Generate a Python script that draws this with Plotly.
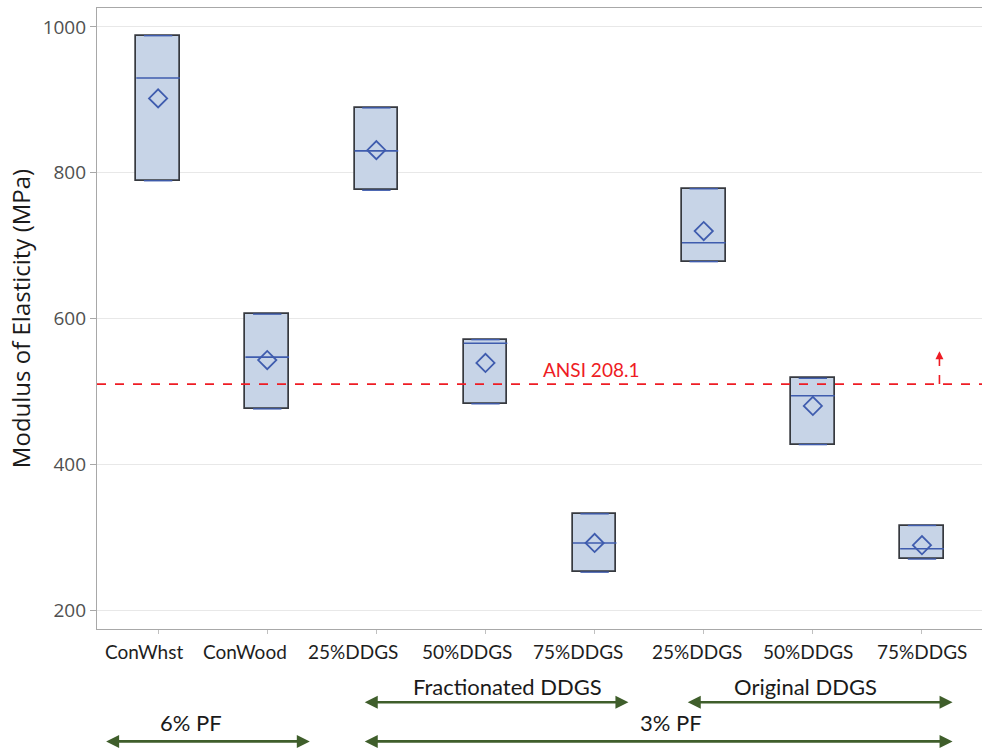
import plotly.graph_objects as go

# Modulus of elasticity summary per formulation (MPa)
categories = ["ConWhst", "ConWood", "25%DDGS", "50%DDGS", "75%DDGS",
              "25%DDGS", "50%DDGS", "75%DDGS"]
moe_max = [988, 606, 889, 571, 332, 778, 518, 316]
moe_median = [930, 547, 830, 566, 292, 704, 494, 284]
moe_min = [789, 476, 776, 483, 252, 678, 427, 270]
moe_mean = [902, 543, 831, 539, 292, 720, 480, 289]
ansi_threshold = 510
y_ticks = [200, 400, 600, 800, 1000]

BOX_HALF = 0.2
CAP_HALF = 0.13
positions = list(range(len(categories)))
# category labels sit slightly left of their boxes
label_shift = [-0.13, -0.20, -0.21, -0.17, -0.15, -0.06, -0.04, 0.0]

BOX_FILL = "#c7d4e7"
BOX_EDGE = "#36393f"
BLUE = "#3f5cae"
GREEN = "#3f5e2b"
RED = "#ee1c24"
SANS = "Lato, Open Sans, sans-serif"

fig = go.Figure()

# Boxes spanning min..max
fig.add_trace(go.Bar(
    x=positions,
    y=[hi - lo for hi, lo in zip(moe_max, moe_min)],
    base=moe_min,
    width=2 * BOX_HALF,
    marker=dict(color=BOX_FILL, line=dict(color=BOX_EDGE, width=1.7)),
    hoverinfo="skip",
    showlegend=False,
))

# Median lines and blue caps at min / max
seg_x, seg_y = [], []
cap_x, cap_y = [], []
for p, med, lo, hi in zip(positions, moe_median, moe_min, moe_max):
    seg_x += [p - BOX_HALF, p + BOX_HALF, None]
    seg_y += [med, med, None]
    for v in (lo, hi):
        cap_x += [p - CAP_HALF, p + CAP_HALF, None]
        cap_y += [v, v, None]

fig.add_trace(go.Scatter(x=seg_x, y=seg_y, mode="lines",
                         line=dict(color=BLUE, width=1.6),
                         hoverinfo="skip", showlegend=False))
fig.add_trace(go.Scatter(x=cap_x, y=cap_y, mode="lines",
                         line=dict(color=BLUE, width=1.4),
                         hoverinfo="skip", showlegend=False))

# Means as open diamonds
fig.add_trace(go.Scatter(
    x=positions, y=moe_mean, mode="markers",
    marker=dict(symbol="diamond-open", size=14, color=BLUE,
                line=dict(width=1.8, color=BLUE)),
    showlegend=False,
))

# ANSI 208.1 reference line
fig.add_shape(type="line", xref="paper", x0=0, x1=1, yref="y",
              y0=ansi_threshold, y1=ansi_threshold,
              line=dict(color=RED, width=1.6, dash="dash"))
fig.add_annotation(x=3.97, y=ansi_threshold, yanchor="bottom", yshift=1,
                   text="ANSI 208.1", showarrow=False,
                   font=dict(family=SANS, size=19, color=RED))

# Small upward arrow indicating "above the standard"
arrow_x = 7.16
fig.add_shape(type="line", x0=arrow_x, x1=arrow_x, y0=ansi_threshold, y1=ansi_threshold + 38,
              line=dict(color=RED, width=1.6, dash="dash"))
fig.add_annotation(x=arrow_x, y=ansi_threshold + 45, ax=0, ay=8, axref="pixel", ayref="pixel",
                   text="", showarrow=True, arrowhead=2, arrowsize=1,
                   arrowwidth=1.6, arrowcolor=RED)

# Category labels
for p, name, dx in zip(positions, categories, label_shift):
    fig.add_annotation(x=p + dx, xref="x", y=-0.036, yref="paper", yanchor="middle",
                       text=name, showarrow=False,
                       font=dict(family=SANS, size=19, color="#1e1e1e"))

# Group brackets beneath the axis
label_font = dict(family=SANS, size=22, color="#1a1a1a")
groups = [
    ("Fractionated DDGS", 3.20, 1.88, 4.31, -0.092, -0.118),
    ("Original DDGS", 5.93, 4.84, 7.28, -0.092, -0.118),
    ("6% PF", 0.30, -0.49, 1.39, -0.150, -0.181),
    ("3% PF", 4.70, 1.88, 7.28, -0.150, -0.181),
]
for text, tx, x0, x1, ty, ay in groups:
    fig.add_annotation(x=tx, xref="x", y=ty, yref="paper", yanchor="middle",
                       text=text, showarrow=False, font=label_font)
    fig.add_annotation(x=x1, xref="x", y=ay, yref="paper",
                       ax=x0, axref="x", ay=0, ayref="pixel",
                       text="", showarrow=True, arrowhead=2, arrowside="end+start",
                       arrowsize=1, arrowwidth=2.6, arrowcolor=GREEN)

fig.update_layout(
    width=982, height=749,
    margin=dict(l=97, r=0, t=8, b=120),
    plot_bgcolor="white", paper_bgcolor="white",
    font=dict(family=SANS, color="#333"),
    bargap=0,
)
fig.update_xaxes(
    range=[-0.56, 7.55],
    tickmode="array", tickvals=positions, showticklabels=False,
    showgrid=False, zeroline=False,
    showline=True, linecolor="#a8a8a8", linewidth=1.2, mirror=True,
    ticks="outside", ticklen=4, tickcolor="#c0c0c0",
)
fig.update_yaxes(
    range=[174, 1026],
    tickmode="array", tickvals=y_ticks,
    tickfont=dict(family="Open Sans, sans-serif", size=19, color="#505050"),
    title=dict(text="Modulus of Elasticity (MPa)",
               font=dict(family="Open Sans, sans-serif", size=24, color="#1a1a1a"), standoff=5),
    showgrid=True, gridcolor="#e8e8e8", gridwidth=1.2, zeroline=False,
    showline=True, linecolor="#a8a8a8", linewidth=1.2, mirror=True,
    ticks="outside", ticklen=6, tickcolor="#a8a8a8",
)

fig.write_html("out.html")
